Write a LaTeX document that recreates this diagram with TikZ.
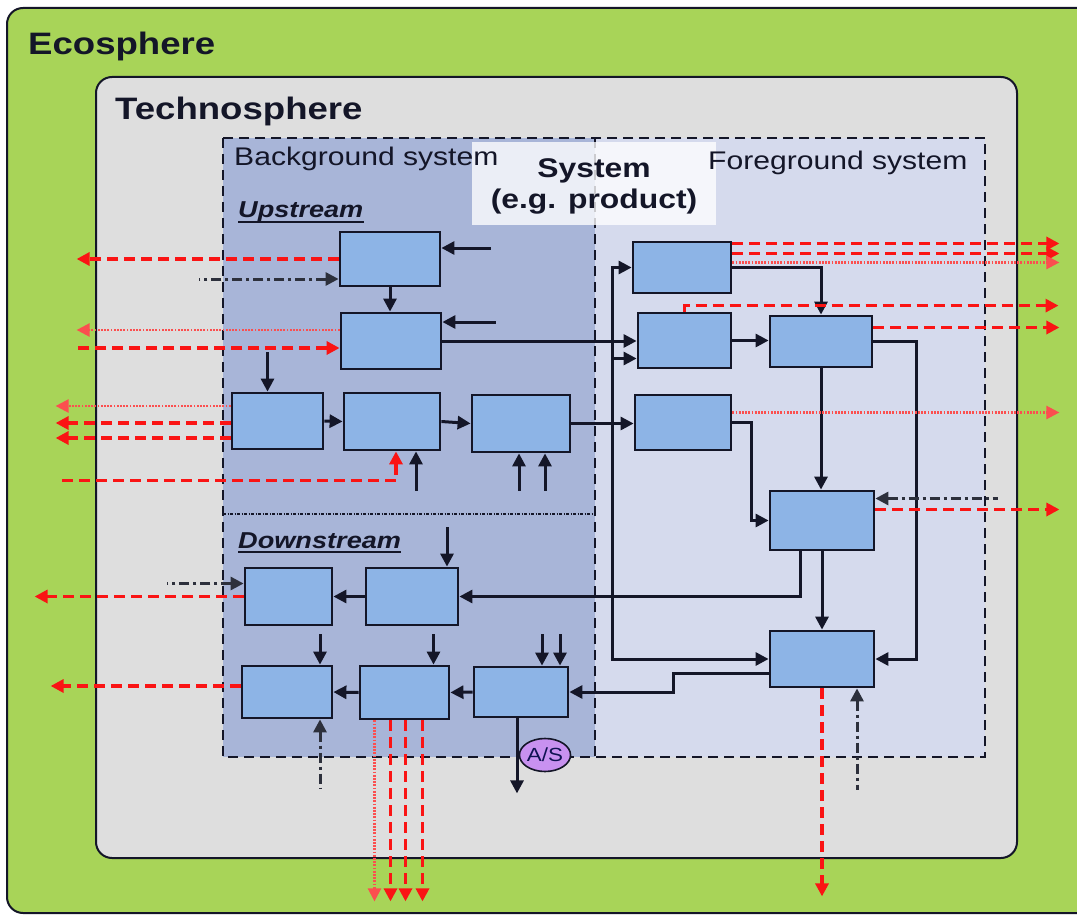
\documentclass[tikz,border=0pt]{standalone}
\usepackage{fontspec}
\setmainfont{Liberation Sans}[FakeStretch=1.18]
\usetikzlibrary{arrows.meta,shapes.geometric}
\definecolor{eco}{RGB}{168,212,88}
\definecolor{techno}{RGB}{222,222,222}
\definecolor{bgzone}{RGB}{168,181,216}
\definecolor{fgzone}{RGB}{213,218,237}
\definecolor{cell}{RGB}{141,180,230}
\definecolor{ink}{RGB}{20,22,40}
\definecolor{hot}{RGB}{250,20,20}
\definecolor{ash}{RGB}{45,48,60}
\definecolor{lilac}{RGB}{200,145,240}
\tikzset{
  >={Triangle[length=13pt,width=13pt]},
  sphere/.style={draw=ink,fill=#1,line width=2pt,rounded corners=16pt},
  zoneline/.style={draw=ink,line width=2.4pt,dash pattern=on 10pt off 6pt},
  zone/.style={anchor=base west,inner sep=0pt,text=ink,font=\bfseries\fontsize{31}{36}\selectfont},
  part/.style={anchor=base west,inner sep=0pt,text=ink,font=\fontsize{25.5}{30}\selectfont},
  stream/.style={anchor=base west,inner sep=0pt,text=ink,font=\bfseries\itshape\fontsize{23}{27}\selectfont},
  unit/.style={draw=ink,fill=cell,line width=2.8pt,inner sep=0pt},
  flow/.style={->,line width=3pt,draw=ink},
  emis/.style={->,line width=3.2pt,draw=hot,dash pattern=on 11pt off 6pt},
  leak/.style={->,line width=2.4pt,draw=hot!75,dash pattern=on 1.8pt off 1.4pt},
  aux/.style={->,line width=3pt,draw=ash,dash pattern=on 10pt off 4pt on 3pt off 4pt},
}
\begin{document}
\begin{tikzpicture}[x=1pt,y=-1pt]
  \useasboundingbox (0,0) rectangle (1077,915);
  \clip (0,0) rectangle (1077,915);
  \draw[sphere=eco] (7,8) rectangle (1100,913);
  \draw[sphere=techno] (96,77) rectangle (1017,858);
  \fill[bgzone] (223,138) rectangle (595,757);
  \fill[fgzone] (595,138) rectangle (985,757);
  \draw[zoneline] (595,138) -- (595,757);
  \fill[white,opacity=.78] (472,142) rectangle (716,225);
  \draw[zoneline] (223,138) rectangle (985,757);
  \draw[ink,line width=2pt,dash pattern=on 3pt off 1.5pt on 1pt off 1.5pt] (223,514) -- (595,514);

  \node[zone] (eco) at (28,55) {Ecosphere};
  \node[zone] (techno) at (115,120) {Technosphere};
  \node[part] (bg) at (234,166) {Background system};
  \node[part] (fg) at (708,170) {Foreground system};
  \node[inner sep=0pt,align=center,text=ink,font=\bfseries\fontsize{27}{31}\selectfont] (sys) at (594,186) {System\\(e.g. product)};
  \node[stream] (up) at (238,218) {Upstream};
  \node[stream] (down) at (238,548) {Downstream};
  \foreach \n in {up,down}
    \draw[ink,line width=1.8pt] ([yshift=-4pt]\n.base west) -- ([yshift=-4pt]\n.base east);

  \foreach \n/\x/\y/\w/\h in {u1/390/259/100/54,u2/391/341/100/56,u3/277.5/421/91/56,u4/392/421.5/96/57,
    u5/521/423.5/98/57,f1/682/267.5/98/51,f2/684.5/340.5/93/55,f3/821/341.5/102/51,f4/683/422.5/96/55,
    f5/822/520.5/104/59,f6/822/659/104/56,d1/288.5/596.5/87/57,d2/412/596.5/92/57,d3/287/692/90/52,
    d4/404.5/692.5/89/53,d5/521/692/94/50}
    \node[unit,minimum width=\w pt,minimum height=\h pt] (\n) at (\x,\y) {};

  \draw[flow] (u1.south) -- (u1.south |- u2.north);
  \draw[flow] (u2.east) -- (u2.east -| f2.west);
  \draw[flow] (u3.east) -- (u4.west);
  \draw[flow] (u4.east) -- (u5.west);
  \draw[flow] (u5.east) -- (u5.east -| f4.west);
  \coordinate (bus) at (612,423);
  \foreach \t/\s in {f1/0,f2/-18,f6/0}
    \draw[flow] (bus) |- ([yshift=\s pt]\t.west);
  \draw[flow] (f1.east) -| (f3.north);
  \draw[flow] (f2.east) -- (f2.east -| f3.west);
  \draw[flow] (f3.south) -- (f3.south |- f5.north);
  \draw[flow] (f5.south) -- (f5.south |- f6.north);
  \draw[flow] (f3.east) -- ++(43,0) |- (f6.east);
  \draw[flow] (f4.east) -- ++(19,0) |- (f5.west);
  \draw[flow] ([xshift=-22pt]f5.south) |- (d2.east);
  \draw[flow] ([yshift=-14pt]f6.west) -- ++(-95,0) |- (d5.east);
  \draw[flow] (d2.west) -- (d1.east);
  \draw[flow] (d5.west) -- (d4.east);
  \draw[flow] (d4.west) -- (d3.east);

  \draw[flow,<-] ([yshift=11pt]u1.east) -- ++(50,0);
  \draw[flow,<-] ([yshift=19pt]u2.east) -- ++(54,0);
  \draw[flow,<-] ([xshift=-10pt]u3.north) -- ++(0,-40);
  \draw[flow,<-] ([xshift=24pt]u4.south) -- ++(0,40);
  \foreach \s in {-2,24} \draw[flow,<-] ([xshift=\s pt]u5.south) -- ++(0,38);
  \draw[flow,<-] ([xshift=35pt]d2.north) -- ++(0,-40);
  \draw[flow,<-] ([xshift=33pt]d3.north) -- ++(0,-31);
  \draw[flow,<-] ([xshift=29pt]d4.north) -- ++(0,-31);
  \foreach \s in {21,39} \draw[flow,<-] ([xshift=\s pt]d5.north) -- ++(0,-32);
  \draw[flow] ([xshift=-4pt]d5.south) -- ++(0,75);

  \draw[aux,<-] ([yshift=-20pt]u1.west) -- ++(-140,0);
  \draw[aux,<-] ([yshift=22pt]f5.east) -- ++(123,0);
  \draw[aux,<-] ([xshift=35pt]f6.south) -- ++(0,102);
  \draw[aux,<-] ([yshift=13pt]d1.west) -- ++(-77,0);
  \draw[aux,<-] ([xshift=33pt]d3.south) -- ++(0,69);

  \draw[emis] (u1.west) -- ++(-262,0);
  \draw[leak] ([yshift=11pt]u2.west) -- ++(-263,0);
  \draw[emis,<-] ([yshift=-7pt]u2.west) -- ++(-263,0);
  \draw[leak] ([yshift=15pt]u3.west) -- ++(-175,0);
  \foreach \s in {-2,-17} \draw[emis] ([yshift=\s pt]u3.west) -- ++(-175,0);
  \draw[emis,<-] ([xshift=4pt]u4.south) |- ++(-339,29);
  \foreach \s in {24,14} \draw[emis] ([yshift=\s pt]f1.east) -- ++(327,0);
  \draw[leak] ([yshift=5pt]f1.east) -- ++(327,0);
  \draw[emis] (f2.north) |- ++(374,-6);
  \draw[emis] ([yshift=14pt]f3.east) -- ++(186,0);
  \draw[leak] ([yshift=10pt]f4.east) -- ++(327,0);
  \draw[emis] ([yshift=11pt]f5.east) -- ++(184,0);
  \draw[emis] (f6.south) -- ++(0,208);
  \draw[emis] (d1.west) -- ++(-209,0);
  \draw[emis] ([yshift=6pt]d3.west) -- ++(-190,0);
  \draw[leak] ([xshift=-30pt]d4.south) -- ++(0,181);
  \foreach \s in {-14,1,18} \draw[emis] ([xshift=\s pt]d4.south) -- ++(0,181);

  \node[ellipse,draw=ink,fill=lilac,line width=1.6pt,minimum width=48pt,minimum height=33pt,inner sep=0pt,
    text=ink!80!blue,font=\fontsize{19}{22}\selectfont] (as) at (545,755) {A/S};
\end{tikzpicture}
\end{document}
